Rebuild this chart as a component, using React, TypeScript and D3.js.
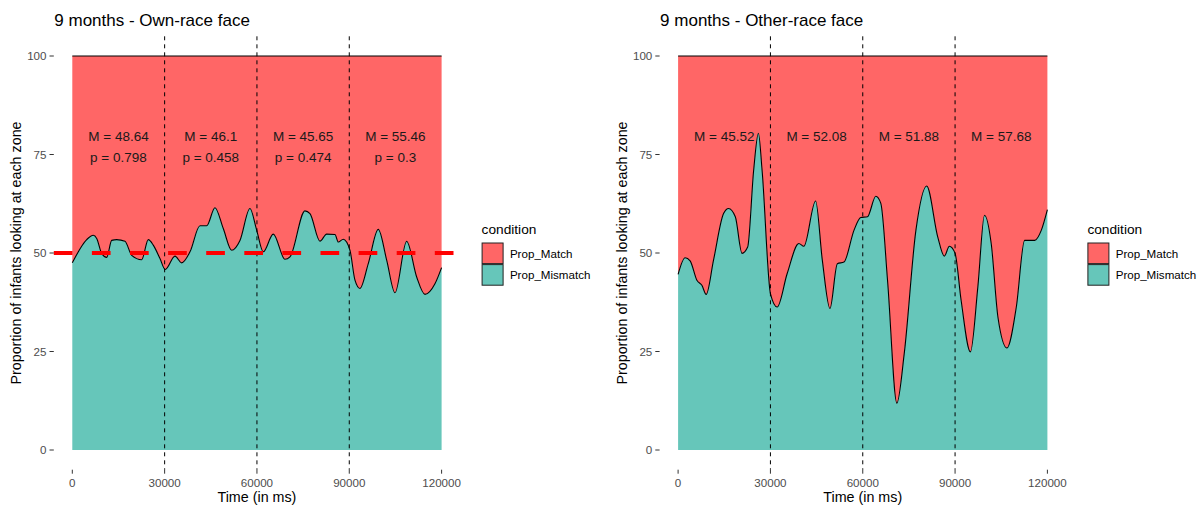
import React from "react";
import * as d3 from "d3";

// ---------- data ----------
const leftTitle = "9 months - Own-race face";
const rightTitle = "9 months - Other-race face";

const leftTime = [0, 4680, 6820, 7930, 9550, 11180, 12800, 14430, 17120, 19300, 22550, 24690, 26320, 28490, 30210, 33370, 35540, 38240, 41490, 43660, 46360, 49060, 51790, 54480, 57730, 59910, 62060, 65300, 69110, 70730, 75600, 77230, 80480, 82650, 85350, 86420, 88050, 90220, 91850, 93470, 96170, 99420, 102150, 104850, 108650, 111900, 114590, 117840, 120000];
const leftMismatch = [47.5, 53.4, 54.5, 53.7, 49.9, 48.9, 53.2, 53.4, 53.0, 49.4, 48.3, 53.4, 52.0, 48.6, 45.8, 49.2, 47.5, 50.3, 56.9, 56.9, 61.5, 56.2, 50.7, 53.2, 61.3, 55.8, 50.3, 54.8, 48.4, 49.0, 60.7, 60.0, 53.0, 54.8, 54.7, 52.8, 53.5, 50.7, 43.1, 41.0, 47.3, 56.0, 48.2, 39.9, 53.0, 43.9, 39.5, 42.2, 46.3];

const rightTime = [0, 2280, 3910, 6100, 7730, 9130, 11510, 14770, 16400, 18590, 20770, 22600, 24550, 26090, 27290, 30000, 32190, 35450, 39230, 40860, 44680, 46860, 49340, 51750, 53900, 57170, 59350, 61530, 64240, 65870, 68050, 71090, 73470, 77280, 80770, 84360, 86510, 88140, 90000, 91960, 94990, 97400, 99560, 101740, 103930, 106860, 109900, 112600, 115860, 118040, 120000];
const rightMismatch = [44.6, 48.8, 48.0, 43.1, 41.8, 39.5, 48.2, 60.0, 61.3, 59.2, 49.9, 51.5, 71.0, 80.4, 71.0, 39.7, 36.3, 44.8, 52.4, 51.7, 63.2, 48.2, 35.9, 47.3, 47.7, 55.8, 59.0, 59.2, 64.4, 62.6, 43.1, 11.9, 24.4, 55.8, 67.0, 54.1, 49.2, 51.7, 49.9, 38.0, 24.9, 41.4, 59.6, 52.4, 33.7, 25.9, 36.3, 53.2, 53.2, 55.8, 61.0];

const segmentCenters = [15000, 45000, 75000, 105000];
const leftM = ["M = 48.64", "M = 46.1", "M = 45.65", "M = 55.46"];
const leftP = ["p = 0.798", "p = 0.458", "p = 0.474", "p = 0.3"];
const rightM = ["M = 45.52", "M = 52.08", "M = 51.88", "M = 57.68"];

const boundaries = [30000, 60000, 90000];
const xTicks = [0, 30000, 60000, 90000, 120000];
const yTicks = [0, 25, 50, 75, 100];
const conditions = ["Prop_Match", "Prop_Mismatch"];

// ---------- style ----------
const FONT = "'Liberation Sans', Arial, Helvetica, sans-serif";
const RED = "#FF6666";
const TEAL = "#66C6BA";
const GRAY = "#4D4D4D";

type PanelProps = {
  ox: number;
  title: string;
  time: number[];
  mismatch: number[];
  mLabels: string[];
  pLabels?: string[];
  refLine: boolean;
};

function Panel({ ox, title, time, mismatch, mLabels, pLabels, refLine }: PanelProps) {
  const x = d3.scaleLinear().domain([0, 120000]).range([ox + 18.5, ox + 387.8]);
  const y = d3.scaleLinear().domain([0, 100]).range([450, 56]);
  const px0 = ox;
  const px1 = ox + 406.3;
  const py0 = 36.3;
  const py1 = 469.7;

  const data = time.map((t, i) => ({ t, v: mismatch[i] }));
  const curve = d3.curveMonotoneX;
  const areaBottom = d3
    .area<{ t: number; v: number }>()
    .x((d) => x(d.t))
    .y0(y(0))
    .y1((d) => y(d.v))
    .curve(curve);
  const areaTop = d3
    .area<{ t: number; v: number }>()
    .x((d) => x(d.t))
    .y0((d) => y(d.v))
    .y1(y(100))
    .curve(curve);
  const line = d3
    .line<{ t: number; v: number }>()
    .x((d) => x(d.t))
    .y((d) => y(d.v))
    .curve(curve);

  const legendX = px1 + 21.5;

  return (
    <g>
      <text x={px0 + 0.5} y={26} fontSize={17} fill="#000" fontFamily={FONT}>
        {title}
      </text>
      <path d={areaTop(data) || ""} fill={RED} />
      <path d={areaBottom(data) || ""} fill={TEAL} />
      <line x1={x(0)} x2={x(120000)} y1={y(100)} y2={y(100)} stroke="#000" strokeWidth={1.1} />
      <path d={line(data) || ""} fill="none" stroke="#000" strokeWidth={1.1} />
      {boundaries.map((b) => (
        <line key={b} x1={x(b)} x2={x(b)} y1={py0} y2={py1} stroke="#000" strokeWidth={1} strokeDasharray="4 4" />
      ))}
      {refLine && (
        <line x1={px0} x2={px1} y1={y(50)} y2={y(50)} stroke="#FF0000" strokeWidth={4.2} strokeDasharray="18.7 19.4" />
      )}
      {segmentCenters.map((c, i) =>
        pLabels ? (
          <g key={c}>
            <text x={x(c)} y={140.5} textAnchor="middle" fontSize={13.5} fill="#1a1a1a" fontFamily={FONT}>
              {mLabels[i]}
            </text>
            <text x={x(c)} y={161.5} textAnchor="middle" fontSize={13.5} fill="#1a1a1a" fontFamily={FONT}>
              {pLabels[i]}
            </text>
          </g>
        ) : (
          <text key={c} x={x(c)} y={140.8} textAnchor="middle" fontSize={13.5} fill="#1a1a1a" fontFamily={FONT}>
            {mLabels[i]}
          </text>
        )
      )}
      {/* y axis */}
      {yTicks.map((t) => (
        <g key={t}>
          <line x1={px0 - 4.3} x2={px0} y1={y(t)} y2={y(t)} stroke="#333" strokeWidth={1} />
          <text x={px0 - 7.3} y={y(t) + 4} textAnchor="end" fontSize={11.6} fill={GRAY} fontFamily={FONT}>
            {t}
          </text>
        </g>
      ))}
      <text
        transform={`translate(${px0 - 32.8},${(py0 + py1) / 2}) rotate(-90)`}
        textAnchor="middle"
        fontSize={14.3}
        fill="#000"
        fontFamily={FONT}
      >
        Proportion of infants looking at each zone
      </text>
      {/* x axis */}
      {xTicks.map((t) => (
        <g key={t}>
          <line x1={x(t)} x2={x(t)} y1={py1} y2={py1 + 4} stroke="#333" strokeWidth={1} />
          <text x={x(t)} y={486.5} textAnchor="middle" fontSize={11.6} fill={GRAY} fontFamily={FONT}>
            {t}
          </text>
        </g>
      ))}
      <text x={x(60000)} y={502} textAnchor="middle" fontSize={14.3} fill="#000" fontFamily={FONT}>
        Time (in ms)
      </text>
      {/* legend */}
      <text x={legendX} y={234} fontSize={13.7} fill="#000" fontFamily={FONT}>
        condition
      </text>
      {conditions.map((c, i) => (
        <g key={c}>
          <rect x={legendX + 0.5} y={243 + i * 21.6} width={21} height={20.6} fill={i === 0 ? RED : TEAL} stroke="#222" strokeWidth={1} />
          <text x={legendX + 28.3} y={253.5 + i * 21.6 + 4} fontSize={11.6} fill="#000" fontFamily={FONT}>
            {c}
          </text>
        </g>
      ))}
    </g>
  );
}

export default function App() {
  return (
    <svg
      width={1202}
      height={507}
      style={{ position: "absolute", left: 0, top: 0, background: "#fff" }}
    >
      <rect width={1202} height={507} fill="#fff" />
      <Panel ox={53.8} title={leftTitle} time={leftTime} mismatch={leftMismatch} mLabels={leftM} pLabels={leftP} refLine={true} />
      <Panel ox={659.6} title={rightTitle} time={rightTime} mismatch={rightMismatch} mLabels={rightM} refLine={false} />
    </svg>
  );
}
